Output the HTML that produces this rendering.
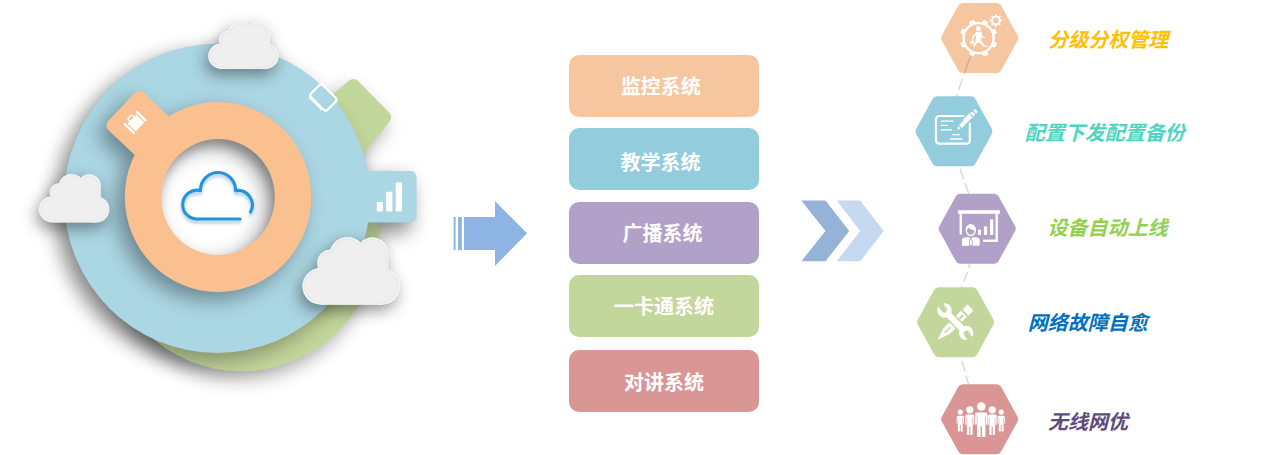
<!DOCTYPE html>
<html lang="zh-CN">
<head>
<meta charset="utf-8">
<title>智慧校园云平台</title>
<style>
html,body{margin:0;padding:0;background:#fff;}
body{width:1262px;height:455px;position:relative;overflow:hidden;font-family:"Liberation Sans","Noto Sans CJK SC",sans-serif;}
#art{position:absolute;left:0;top:0;width:1262px;height:455px;display:block;}
.box{position:absolute;left:569px;width:190px;height:62px;border-radius:10px;color:#fff;font-weight:bold;font-size:20px;line-height:62px;text-align:center;letter-spacing:0;}
.b1{top:55px;background:#f6c6a0;}
.b2{top:128px;background:#93ccdd;}
.b3{top:202px;background:#b1a0c7;}
.b4{top:275px;background:#c3d69b;}
.b5{top:350px;background:#d99694;}
.box span{display:inline-block;position:relative;}
.b1 span{left:-3.3px;top:1.1px;}
.b2 span{left:-3.4px;top:3.5px;}
.b3 span{left:-1.6px;top:0.6px;}
.b4 span{left:0;top:1px;}
.b5 span{left:0;top:1.7px;}
.lbl{position:absolute;font-weight:bold;font-style:italic;font-size:20px;line-height:24px;height:24px;white-space:nowrap;}
.l1{left:1048.2px;top:28.2px;color:#ffc000;}
.l2{left:1024.8px;top:121.4px;color:#4dd5c2;}
.l3{left:1047.6px;top:215.9px;color:#92d050;}
.l4{left:1027.7px;top:311.4px;color:#0070c0;}
.l5{left:1048px;top:410.4px;color:#604a7b;}
</style>
</head>
<body>
<svg id="art" width="1262" height="455" viewBox="0 0 1262 455">
<defs>
<filter color-interpolation-filters="sRGB" id="sh" x="-30%" y="-30%" width="160%" height="160%">
<feDropShadow dx="-7" dy="9" stdDeviation="10" flood-color="#000" flood-opacity="0.31"/>
</filter>
<filter color-interpolation-filters="sRGB" id="sh0" x="-30%" y="-30%" width="160%" height="160%">
<feDropShadow dx="-7" dy="9" stdDeviation="10" flood-color="#000" flood-opacity="0.24"/>
</filter>
<filter color-interpolation-filters="sRGB" id="shg" x="-30%" y="-30%" width="160%" height="160%">
<feDropShadow dx="-5" dy="8" stdDeviation="9" flood-color="#000" flood-opacity="0.33"/>
</filter>
<filter color-interpolation-filters="sRGB" id="sho" x="-30%" y="-30%" width="160%" height="160%">
<feDropShadow dx="-8" dy="8" stdDeviation="10" flood-color="#000" flood-opacity="0.37"/>
</filter>
<filter color-interpolation-filters="sRGB" id="shc" x="-40%" y="-40%" width="180%" height="200%">
<feDropShadow dx="-3" dy="6" stdDeviation="8" flood-color="#000" flood-opacity="0.42"/>
</filter>
<filter color-interpolation-filters="sRGB" id="shi" x="-30%" y="-30%" width="160%" height="180%">
<feDropShadow dx="0" dy="3" stdDeviation="1.5" flood-color="#1e6fc0" flood-opacity="0.35"/>
</filter>
<filter color-interpolation-filters="sRGB" id="blur5" x="-30%" y="-30%" width="160%" height="160%"><feGaussianBlur stdDeviation="5"/></filter>
<clipPath id="holeclip"><ellipse cx="218" cy="197" rx="58" ry="59"/></clipPath>
<filter color-interpolation-filters="sRGB" id="bevel" x="-5%" y="-5%" width="110%" height="110%">
<feMorphology in="SourceAlpha" operator="erode" radius="1" result="e1"/>
<feGaussianBlur in="e1" stdDeviation="0.5" result="e1b"/>
<feMorphology in="SourceAlpha" operator="erode" radius="2" result="e2"/>
<feGaussianBlur in="e2" stdDeviation="0.5" result="e2b"/>
<feFlood flood-color="#f6f6f6"/><feComposite in2="SourceAlpha" operator="in" result="rim"/>
<feFlood flood-color="#e7e7e7"/><feComposite in2="e1b" operator="in" result="line"/>
<feFlood flood-color="#efefef"/><feComposite in2="e2b" operator="in" result="inner"/>
<feMerge><feMergeNode in="rim"/><feMergeNode in="line"/><feMergeNode in="inner"/></feMerge>
</filter>
<g id="cloud">
<circle cx="18.1" cy="49.2" r="18.2"/>
<circle cx="28" cy="25.8" r="13.2"/>
<circle cx="44.9" cy="18.1" r="18"/>
<circle cx="69.7" cy="16.3" r="15.8"/>
<circle cx="79.2" cy="49.3" r="18.2"/>
<rect x="18.1" y="22" width="61.1" height="45.5"/>
<rect x="60" y="16.3" width="25.5" height="34"/>
</g>
</defs>

<!-- LEFT ILLUSTRATION -->
<g filter="url(#sh0)" fill="#abd6e3">
<ellipse cx="217" cy="198.5" rx="153" ry="154.5"/>
<rect x="219" y="171" width="197.3" height="51.5" rx="6"/>
</g>
<g id="green" filter="url(#shg)" fill="#c3d69b">
<ellipse cx="241.5" cy="233" rx="137.3" ry="138.3"/>
<path d="M353.4 85.5L384.7 117.2L339.4 173.1L298.5 132z" stroke="#c3d69b" stroke-width="13" stroke-linejoin="round"/>
</g>
<g id="blue" filter="url(#sh)" fill="#abd6e3">
<ellipse cx="217" cy="198.5" rx="153" ry="154.5"/>
<rect x="219" y="171" width="197.3" height="51.5" rx="6"/>
</g>
<ellipse cx="218" cy="197" rx="60" ry="61" fill="#fff"/>
<g clip-path="url(#holeclip)">
<path filter="url(#blur5)" transform="translate(-3 7)" fill="#000" fill-opacity="0.22" fill-rule="evenodd" d="M218 92a103 105 0 1 0 0 210a103 105 0 1 0 0-210zM218 139.1a56.8 57.9 0 1 1 0 115.8a56.8 57.9 0 1 1 0-115.8z"/>
</g>
<g id="orange" filter="url(#sho)" fill="#fac090" fill-rule="evenodd">
<path d="M218 102a93.2 95 0 1 0 0 190a93.2 95 0 1 0 0-190zM218 139.1a56.8 57.9 0 1 1 0 115.8a56.8 57.9 0 1 1 0-115.8z"/>
<rect x="-26.5" y="-132" width="51.5" height="60" rx="6.5" transform="translate(218 197) rotate(-46.7)"/>
</g>

<!-- cloud icon in the centre -->
<path filter="url(#shi)" d="M200.5 190.5A14.5 14.5 0 1 0 199 219H240M200.5 190A17.5 17.5 0 0 1 235.5 190M235.5 190.6A14.5 14.5 0 0 1 250.5 212" fill="none" stroke="#1e96de" stroke-width="3.1" stroke-linecap="round"/>

<!-- bar chart icon -->
<g fill="#fff">
<rect x="376.7" y="202" width="6.2" height="9.5" rx="1"/>
<rect x="386.2" y="191.8" width="6.2" height="19.7" rx="1"/>
<rect x="395.7" y="182.3" width="6.3" height="29.2" rx="1"/>
</g>

<!-- suitcase icon -->
<g fill="#fff" transform="translate(135.2 122.2) rotate(-46)">
<rect x="-6.1" y="-4.6" width="12.2" height="11.4" rx="0.8"/>
<rect x="-9.8" y="-7.4" width="2.5" height="14.8" rx="1.25"/>
<rect x="7.3" y="-7.4" width="2.5" height="14.8" rx="1.25"/>
<path d="M-3 -4.6V-6.2a1.7 1.7 0 0 1 1.7 -1.7H1.3a1.7 1.7 0 0 1 1.7 1.7V-4.6" fill="none" stroke="#fff" stroke-width="1.4"/>
</g>
<!-- phone icon -->
<g fill="none" stroke="#fff" transform="translate(323.45 97.45) rotate(45)">
<rect x="-11.6" y="-8.5" width="23.2" height="17" rx="2.8" stroke-width="2.2"/>
<path d="M-10.6 8.6L-9.4 11.6L-8.2 10.6H5.8L7 12.2L7.8 8.6z" fill="#fff" stroke="none"/>
</g>

<!-- clouds -->
<g fill="#efefef">
<g filter="url(#shc)"><use href="#cloud" transform="translate(208.4 22) scale(0.72 0.693)"/></g>
<g filter="url(#shc)"><use href="#cloud" transform="translate(39.2 174.2) scale(0.718 0.714)"/></g>
<g filter="url(#shc)"><use href="#cloud" transform="translate(302.6 237.1) scale(1 1)"/></g>
</g>
<g fill="#efefef" filter="url(#bevel)">
<use href="#cloud" transform="translate(208.4 22) scale(0.72 0.693)"/>
<use href="#cloud" transform="translate(39.2 174.2) scale(0.718 0.714)"/>
<use href="#cloud" transform="translate(302.6 237.1) scale(1 1)"/>
</g>

<!-- ARROWS -->
<g fill="#8eb4e3">
<rect x="453.6" y="217" width="2" height="33"/>
<rect x="458" y="217" width="3.8" height="33"/>
<path d="M464 217H495V201L527 233.3L495 266V250H464z"/>
</g>
<path d="M801.3 200.4H825.5L849.2 231L825.5 261.3H801.3L825.5 231z" fill="#95b3d7"/>
<path d="M836.7 200.4H860.2L883.7 231L860.2 261.3H836.7L860.2 231z" fill="#c6d9f1"/>

<!-- HEXAGONS -->
<g stroke-linejoin="round" stroke-width="10">
<path d="M-33.5 0L-17 -30H17L33.5 0L17 30H-17z" transform="translate(954 131.3)" fill="#93ccdd" stroke="#93ccdd"/>
<path d="M-33.5 0L-17 -30H17L33.5 0L17 30H-17z" transform="translate(955.6 322.2)" fill="#c3d69b" stroke="#c3d69b"/>
<path d="M-33.5 0L-17 -30H17L33.5 0L17 30H-17z" transform="translate(977.2 228.7)" fill="#b1a0c7" stroke="#b1a0c7"/>
<path d="M-33.5 0L-17 -30H17L33.5 0L17 30H-17z" transform="translate(979.7 419.2)" fill="#d99694" stroke="#d99694"/>
<path d="M-33.5 0L-17 -30H17L33.5 0L17 30H-17z" transform="translate(979.7 38)" fill="#f6c6a0" stroke="#f6c6a0"/>
</g>
<g stroke="#808080" stroke-opacity="0.33" stroke-width="1.35" fill="none">
<path d="M971.5 53.5L964.2 73.8M962.4 79.1L958.7 89.6M957.3 94L956.4 96.7"/>
<path d="M960 168.8L963.7 178.9M964.9 183L968.8 193.6"/>
<path d="M969.9 263.4L968.6 267.8M967.4 272.1L963.6 281.8M962 286.2L961.7 287.1"/>
<path d="M961.8 361L965 371.5M965.9 375.9L968.6 384.3"/>
</g>
<!-- icon 1: gear with walking person -->
<g fill="#fff" fill-rule="evenodd">
<path d="M994.5 41.4L997.0 43.2L995.2 47.5L992.2 47.0A16.2 16.2 0 0 1 987.5 51.7L987.5 51.7L988.0 54.7L983.7 56.5L981.9 54.0A16.2 16.2 0 0 1 975.3 54.0L975.3 54.0L973.5 56.5L969.2 54.7L969.7 51.7A16.2 16.2 0 0 1 965.0 47.0L965.0 47.0L962.0 47.5L960.2 43.2L962.7 41.4A16.2 16.2 0 0 1 962.7 34.8L962.7 34.8L960.2 33.0L962.0 28.7L965.0 29.2A16.2 16.2 0 0 1 969.7 24.5L969.7 24.5L969.2 21.5L973.5 19.7L975.3 22.2A16.2 16.2 0 0 1 981.9 22.2L981.9 22.2L983.7 19.7L988.0 21.5L987.5 24.5A16.2 16.2 0 0 1 992.2 29.2L992.2 29.2L995.2 28.7L997.0 33.0L994.5 34.8A16.2 16.2 0 0 1 994.5 41.4zM964.7 38.1a13.9 13.9 0 1 0 27.8 0a13.9 13.9 0 1 0 -27.8 0z"/>
<path d="M1000.3 19.2L1002.1 19.6L1002.1 21.4L1000.3 21.8A4.6 4.6 0 0 1 999.9 22.7L999.9 22.7L1000.9 24.3L999.7 25.5L998.1 24.5A4.6 4.6 0 0 1 997.2 24.9L997.2 24.9L996.8 26.7L995.0 26.7L994.6 24.9A4.6 4.6 0 0 1 993.7 24.5L993.7 24.5L992.1 25.5L990.9 24.3L991.9 22.7A4.6 4.6 0 0 1 991.5 21.8L991.5 21.8L989.7 21.4L989.7 19.6L991.5 19.2A4.6 4.6 0 0 1 991.9 18.3L991.9 18.3L990.9 16.7L992.1 15.5L993.7 16.5A4.6 4.6 0 0 1 994.6 16.1L994.6 16.1L995.0 14.3L996.8 14.3L997.2 16.1A4.6 4.6 0 0 1 998.1 16.5L998.1 16.5L999.7 15.5L1000.9 16.7L999.9 18.3A4.6 4.6 0 0 1 1000.3 19.2zM993.0 20.5a2.9 2.9 0 1 0 5.8 0a2.9 2.9 0 1 0 -5.8 0z"/>
<circle cx="978.4" cy="28.4" r="2.5"/>
<path d="M976.4 31.8L981.6 31.8L982.2 36.2L985.2 37.2L984.9 38.3L981 37.4L981.3 41L984.9 45.5L987.6 46L987.4 47.2L983.8 46.9L979.6 42.5L977.6 42.4L974.2 47.3L973 46.6L975.6 41L975.9 35L973.4 37.6L973.3 41L972.2 41L972 36.9z"/>
<rect x="970.3" y="40.9" width="3.8" height="3" rx="0.4"/>
</g>
<!-- icon 2: card with pen -->
<g fill="none" stroke="#fff" stroke-linecap="round">
<path d="M963.5 116H939.2a3.2 3.2 0 0 0 -3.2 3.2V140.5a3.2 3.2 0 0 0 3.2 3.2H966.6a3.2 3.2 0 0 0 3.2 -3.2V123.5" stroke-width="2.2"/>
<path d="M941.2 121.1H953M941.2 125.4H947.4M941.2 129.8H951.7M952.8 134.6H959.3M950.5 139H961.6" stroke-width="1.3"/>
</g>
<g fill="#fff">
<path d="M957.2 129.6L958.2 126.1L960.8 128.7z"/>
<path d="M959 125.2L969.6 114.3L972.5 117.2L961.8 127.9z"/>
<path d="M970.4 113.5L972.4 111.5L975.3 114.4L973.3 116.4z"/>
<path d="M973.2 110.8L974.4 109.6a1 1 0 0 1 1.4 0L977.2 111a1 1 0 0 1 0 1.4L976 113.6z"/>
<path d="M963.2 119.4L970.2 112.4L970.9 113.1L963.9 120.1z"/>
</g>
<!-- icon 3: presentation -->
<g fill="#fff">
<rect x="957.9" y="210.2" width="41.9" height="3.6"/>
<rect x="959.6" y="213" width="2.3" height="21.6"/>
<rect x="995.5" y="213" width="2.4" height="28.9"/>
<rect x="983" y="239.6" width="14.9" height="2.3"/>
<rect x="978.1" y="229.6" width="2.9" height="5.3"/>
<rect x="983.9" y="226.4" width="3.3" height="8.5"/>
<rect x="990" y="219.4" width="3.3" height="15.5"/>
<ellipse cx="970.8" cy="230.1" rx="5.6" ry="6.6" fill="#b1a0c7"/>
<path fill-rule="evenodd" d="M965.6 230.1a5.2 6.2 0 1 1 10.4 0a5.2 6.2 0 1 1 -10.4 0zM967.1 229.6a3.7 4.9 0 1 0 7.4 0.6Q970.5 230.4 968.8 227.6Q968.2 229 967.1 229.6z"/>
<path d="M961.9 245.8V240.6Q961.9 238 964.6 237.6L968.5 236.9L970.8 239L973.1 236.9L977 237.6Q979.7 238 979.7 240.6V245.8z"/>
<path d="M969.9 239.4H971.7L972.4 245.3H969.2z" fill="#b1a0c7" stroke="#b1a0c7" stroke-width="0.9"/>
<path d="M970.2 239.8H971.4L971.9 245H969.7z"/>
</g>
<!-- icon 4: wrench and pencil -->
<g fill="#fff">
<g transform="translate(954.5 323.2) rotate(135.6)">
<rect x="-22.4" y="-4.2" width="7" height="8.4"/>
<rect x="-13.4" y="-4.2" width="8" height="8.4"/>
<path d="M-11.6 -1.3H-6.4V0.7H-11.6z" fill="#c3d69b"/>
<path d="M-6 -4.2H11L22.4 -0.6V0.6L11 4.2H-6z"/>
<rect x="5.5" y="-0.7" width="8.5" height="1.4" rx="0.7" fill="#c3d69b"/>
</g>
<g transform="translate(955.35 321.7) rotate(45.9)">
<rect x="-12" y="-4.6" width="24" height="9.2" fill="#c3d69b"/>
<rect x="-13" y="-3.1" width="26" height="6.2"/>
<circle cx="-15.6" cy="0" r="7.2"/>
<circle cx="15.6" cy="0" r="7.2"/>
<rect x="-25" y="-2.8" width="11.6" height="5.6" rx="2.8" fill="#c3d69b" transform="rotate(12 -15.6 0)"/>
<rect x="13.4" y="-2.8" width="11.6" height="5.6" rx="2.8" fill="#c3d69b" transform="rotate(12 15.6 0)"/>
</g>
</g>
<!-- icon 5: people -->
<g fill="#fff">
<circle cx="960.3" cy="412.1" r="2.6"/><path d="M958.1 415.7H962.5Q964.0 415.7 964.0 417.2V423.6H962.7V431.6H960.7V424.9H959.9V431.6H957.9V423.6H956.6V417.2Q956.6 415.7 958.1 415.7z"/><path d="M957.9 418.2V423.6M962.7 418.2V423.6" stroke="#d99694" stroke-width="0.6" fill="none"/>
<circle cx="1001.2" cy="412.1" r="2.6"/><path d="M999.0 415.7H1003.4Q1004.9 415.7 1004.9 417.2V423.6H1003.6V431.6H1001.6V424.9H1000.8V431.6H998.8V423.6H997.5V417.2Q997.5 415.7 999.0 415.7z"/><path d="M998.8 418.2V423.6M1003.6 418.2V423.6" stroke="#d99694" stroke-width="0.6" fill="none"/>
<circle cx="969.8" cy="409.8" r="3.6"/><path d="M967.1 414.6H972.5Q974.2 414.6 974.2 416.4V424.8H972.7V434.9H970.3V426.4H969.3V434.9H966.9V424.8H965.3V416.4Q965.3 414.6 967.1 414.6z"/><path d="M966.9 417.8V424.8M972.7 417.8V424.8" stroke="#d99694" stroke-width="0.6" fill="none"/>
<circle cx="992.2" cy="409.8" r="3.6"/><path d="M989.5 414.6H994.9Q996.7 414.6 996.7 416.4V424.8H995.1V434.9H992.7V426.4H991.7V434.9H989.3V424.8H987.8V416.4Q987.8 414.6 989.5 414.6z"/><path d="M989.3 417.8V424.8M995.1 417.8V424.8" stroke="#d99694" stroke-width="0.6" fill="none"/>
<circle cx="981.3" cy="406.5" r="4.3"/><path d="M976.9 412.4H985.6Q987.4 412.4 987.4 414.2V424.6H985.4V436.9H982.0V426.6H980.6V436.9H977.2V424.6H975.1V414.2Q975.1 412.4 976.9 412.4z"/><path d="M977.2 416.3V424.6M985.4 416.3V424.6" stroke="#d99694" stroke-width="0.6" fill="none"/>
</g>
</svg>

<div class="box b1"><span>监控系统</span></div>
<div class="box b2"><span>教学系统</span></div>
<div class="box b3"><span>广播系统</span></div>
<div class="box b4"><span>一卡通系统</span></div>
<div class="box b5"><span>对讲系统</span></div>

<div class="lbl l1">分级分权管理</div>
<div class="lbl l2">配置下发配置备份</div>
<div class="lbl l3">设备自动上线</div>
<div class="lbl l4">网络故障自愈</div>
<div class="lbl l5">无线网优</div>
</body>
</html>
